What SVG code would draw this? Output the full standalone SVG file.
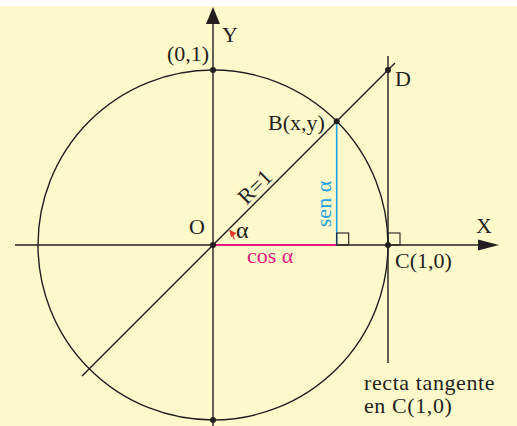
<svg xmlns="http://www.w3.org/2000/svg" width="517" height="426" viewBox="0 0 517 426">
<defs>
<style>
.ln{stroke:#231f20;stroke-width:1.4;fill:none}
.sq{stroke:#231f20;stroke-width:1.1;fill:none}
.dot{fill:#231f20}
.t{font-family:"Liberation Serif","Times New Roman",serif;font-size:22px;fill:#231f20}
.big{font-size:24px}
.rt{font-size:22px;letter-spacing:0.6px}
.pink{fill:#e6197f}
.blue{fill:#1fa3e0}
</style>
<marker id="ar" viewBox="0 0 10 10" refX="9" refY="5" markerWidth="7" markerHeight="7" markerUnits="userSpaceOnUse" orient="auto">
<path d="M0,0 L10,5 L0,10 z" fill="#e8392b"/>
</marker>
</defs>
<rect x="0" y="0" width="517" height="426" fill="#ffffff"/>
<rect x="0" y="6" width="517" height="420" fill="#fef9cb"/>
<g id="connectors">
<circle cx="213" cy="245" r="175" class="ln"/>
<line x1="15" y1="245" x2="480" y2="245" class="ln"/>
<polygon points="499,245 478,239.5 478,250.5" fill="#231f20"/>
<line x1="213" y1="426" x2="213" y2="22" class="ln"/>
<polygon points="213,7 206,24 220,24" fill="#231f20"/>
<line x1="82" y1="376" x2="395" y2="63" class="ln"/>
<line x1="388" y1="56" x2="388" y2="363" class="ln"/>
<line x1="213" y1="245" x2="336.7" y2="245" stroke="#e6197f" stroke-width="2"/>
<line x1="336.7" y1="121.3" x2="336.7" y2="245" stroke="#1fa3e0" stroke-width="1.6"/>
<rect x="336.7" y="233" width="12" height="12" class="sq"/>
<rect x="388" y="233" width="12" height="12" class="sq"/>
<path d="M234.3,239.3 A22,22 0 0 0 229.8,230.5" stroke="#e8392b" stroke-width="1.3" fill="none" marker-end="url(#ar)"/>
</g>
<g id="O"><circle cx="213" cy="245" r="3" class="dot"/><text class="t" x="189" y="234">O</text></g>
<g id="P01"><circle cx="213" cy="70" r="3" class="dot"/><text class="t" x="167" y="61">(0,1)</text></g>
<g id="Y"><text class="t" x="222" y="42">Y</text></g>
<g id="X"><text class="t" x="476" y="233">X</text></g>
<g id="B"><circle cx="336.7" cy="121.3" r="3" class="dot"/><text class="t" x="268" y="130">B(x,y)</text></g>
<g id="D"><circle cx="388" cy="70" r="3" class="dot"/><text class="t" x="395" y="86">D</text></g>
<g id="C"><circle cx="388" cy="245" r="3" class="dot"/><text class="t" x="395" y="268">C(1,0)</text></g>
<g id="S"><circle cx="213" cy="420" r="3" class="dot"/></g>
<g id="labels">
<text class="t big" x="236" y="238">α</text>
<text class="t" x="260" y="192" text-anchor="middle" transform="rotate(-45 260 192)">R=1</text>
<text class="t blue" x="331" y="204" text-anchor="middle" transform="rotate(-90 331 204)">sen α</text>
<text class="t pink" x="247" y="263">cos α</text>
<text class="t rt" x="364" y="390">recta tangente</text>
<text class="t rt" x="364" y="413">en C(1,0)</text>
</g>
</svg>
